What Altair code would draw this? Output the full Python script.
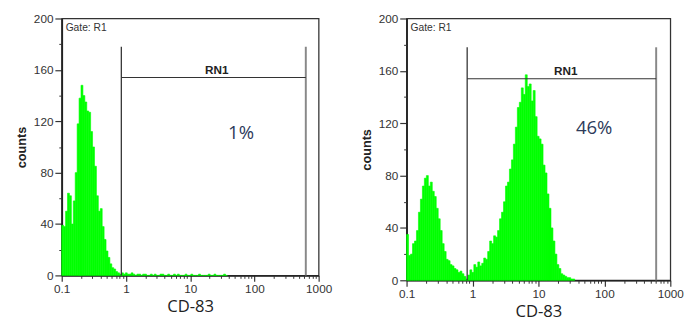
import altair as alt
import pandas as pd

# ---- data ----
BIN_STEP = 0.03          # decades per channel bin
LOG_START = -1.0         # 0.1

LEFT_COUNTS = [39, 38, 50, 64, 62, 40, 58, 80, 118, 138, 148, 140, 135, 128, 127,
               112, 100, 85, 62, 50, 52, 38, 28, 19, 14, 9, 6, 5, 3, 2, 1,
               2, 1, 2, 1, 1, 2, 1, 0, 1, 1, 0, 1, 1, 0, 0, 1, 0, 1, 0, 0, 1, 1,
               0, 0, 1, 0, 0, 1, 0, 1, 0, 0, 0, 1, 0, 0, 1, 0, 0, 0, 1, 0, 0, 0,
               0, 1, 0, 0, 1, 0, 0, 0, 0, 1, 0]

RIGHT_COUNTS = [35, 19, 20, 28, 30, 38, 52, 62, 72, 78, 80, 72, 75, 68, 64, 55, 47,
                38, 28, 22, 16, 15, 12, 11, 9, 8, 6, 7, 5, 3, 1, 4, 8, 6, 12, 10,
                14, 11, 13, 17, 16, 22, 30, 28, 34, 33, 38, 47, 52, 60, 72, 75, 85,
                92, 104, 117, 132, 136, 147, 142, 157, 148, 150, 137, 145, 125, 110,
                108, 104, 88, 82, 66, 55, 40, 30, 20, 12, 9, 5, 4, 3, 2, 2, 1, 1]

GATE_LO = [0.847, 0.83]
GATE_HI = [631, 610]
GATE_BAR = 154
GATE_TOP = 178
PERCENT_LABELS = ["1%", "46%"]
PERCENT_X = [62, 70]
PERCENT_Y = [111, 116]
RN1_X = 26

MAJOR_TICKS = [0.1, 1, 10, 100, 1000]
MINOR_MULT = [2, 3, 4, 5, 6, 7, 8, 9]
Y_MAJOR = [0, 40, 80, 120, 160, 200]
Y_MINOR = [20, 60, 100, 140, 180]

x_minor = []
for d in MAJOR_TICKS[:-1]:
    x_minor += [m * d for m in MINOR_MULT]

FONT = "Liberation Sans"
GREEN = "#00ff00"


def hist_df(counts):
    rows = []
    for i, c in enumerate(counts):
        lo = 10 ** (LOG_START + i * BIN_STEP)
        hi = 10 ** (LOG_START + (i + 1) * BIN_STEP)
        rows.append({"lo": lo, "hi": hi, "count": c, "zero": 0})
    return pd.DataFrame(rows)


def panel(counts, idx, width, height, label_pad, title_pad):
    xscale = alt.Scale(type="log", domain=[0.1, 1000], nice=False)
    yscale = alt.Scale(domain=[0, 200], nice=False)
    xaxis = alt.Axis(
        orient="bottom", values=MAJOR_TICKS, format="~g",
        labelOverlap=False, labelFlush=False, labelBound=False,
        tickSize=6, tickColor="#333", tickWidth=1.2,
        title="CD-83", titleFont="Open Sans", titleFontSize=17, titleFontWeight="normal",
        titleColor="#222", titlePadding=title_pad,
        labelFont=FONT, labelFontSize=12, labelColor="#333", labelPadding=label_pad,
        grid=False, domainColor="#222", domainWidth=1.5,
    )
    yaxis = alt.Axis(
        orient="left", values=Y_MAJOR, format="d",
        labelOverlap=False, labelFlush=False,
        tickSize=7, tickColor="#333", tickWidth=1.2,
        title="counts", titleFont=FONT, titleFontSize=13, titleFontWeight="bold",
        titleColor="#222", titlePadding=5,
        labelFont=FONT, labelFontSize=12, labelColor="#333", labelPadding=2,
        grid=False, domainColor="#222", domainWidth=1.8,
    )
    xaxis_minor = alt.Axis(orient="bottom", values=x_minor, labels=False, title=None,
                           tickSize=3, tickColor="#333", domain=False, grid=False)
    yaxis_minor = alt.Axis(orient="left", values=Y_MINOR, labels=False, title=None,
                           tickSize=3, tickColor="#333", domain=False, grid=False)

    hist = alt.Chart(hist_df(counts)).mark_bar(color=GREEN, stroke=GREEN, strokeWidth=0.6).encode(
        x=alt.X("lo:Q", scale=xscale, axis=xaxis),
        x2="hi:Q",
        y=alt.Y("count:Q", scale=yscale, axis=yaxis),
        y2="zero:Q",
    )

    gate = pd.DataFrame({"lo": [GATE_LO[idx]], "hi": [GATE_HI[idx]],
                         "bar": [GATE_BAR], "top": [GATE_TOP], "zero": [0],
                         "mid": [RN1_X]})
    base = alt.Chart(gate)
    minor = base.mark_point(opacity=0).encode(
        x=alt.X("lo:Q", scale=xscale, axis=xaxis_minor),
        y=alt.Y("bar:Q", scale=yscale, axis=yaxis_minor))
    vline_l = base.mark_rule(color="#333", strokeWidth=1.3).encode(
        x=alt.X("lo:Q", scale=xscale, axis=None),
        y=alt.Y("zero:Q", scale=yscale, axis=None), y2="top:Q")
    vline_r = base.mark_rule(color="#888", strokeWidth=2).encode(
        x=alt.X("hi:Q", scale=xscale, axis=None),
        y=alt.Y("zero:Q", scale=yscale, axis=None), y2="top:Q")
    hline = base.mark_rule(color="#333", strokeWidth=1.1).encode(
        x=alt.X("lo:Q", scale=xscale, axis=None), x2="hi:Q",
        y=alt.Y("bar:Q", scale=yscale, axis=None))
    rn1 = base.mark_text(text="RN1", font=FONT, fontSize=12, fontWeight="bold",
                         color="#222", baseline="bottom", dy=-1).encode(
        x=alt.X("mid:Q", scale=xscale, axis=None),
        y=alt.Y("bar:Q", scale=yscale, axis=None))

    gate_lbl = pd.DataFrame({"x": [0.1], "y": [200], "t": ["Gate: R1"]})
    gate_txt = alt.Chart(gate_lbl).mark_text(font=FONT, fontSize=10.5, color="#333",
                                             align="left", baseline="top", dx=4, dy=5).encode(
        x=alt.X("x:Q", scale=xscale, axis=None),
        y=alt.Y("y:Q", scale=yscale, axis=None), text="t:N")

    pct = pd.DataFrame({"x": [PERCENT_X[idx]], "y": [PERCENT_Y[idx]], "t": [PERCENT_LABELS[idx]]})
    pct_txt = alt.Chart(pct).mark_text(font="Open Sans", fontSize=19, color="#2d3a5a",
                                       align="center", baseline="middle").encode(
        x=alt.X("x:Q", scale=xscale, axis=None),
        y=alt.Y("y:Q", scale=yscale, axis=None), text="t:N")

    return alt.layer(hist, minor, vline_l, vline_r, hline, rn1, gate_txt, pct_txt).resolve_axis(
        x="independent", y="independent").properties(width=width, height=height)


left = panel(LEFT_COUNTS, 0, 263, 263, 2, 5)
right = panel(RIGHT_COUNTS, 1, 270, 268, 3, 4)

chart = alt.hconcat(left, right, spacing=28).properties(
    padding={"left": 7, "top": 0, "right": 0, "bottom": 0}
).configure_view(stroke="#333", strokeWidth=1.3)

chart.save("out.html", embed_options={"renderer": "svg", "actions": False})
